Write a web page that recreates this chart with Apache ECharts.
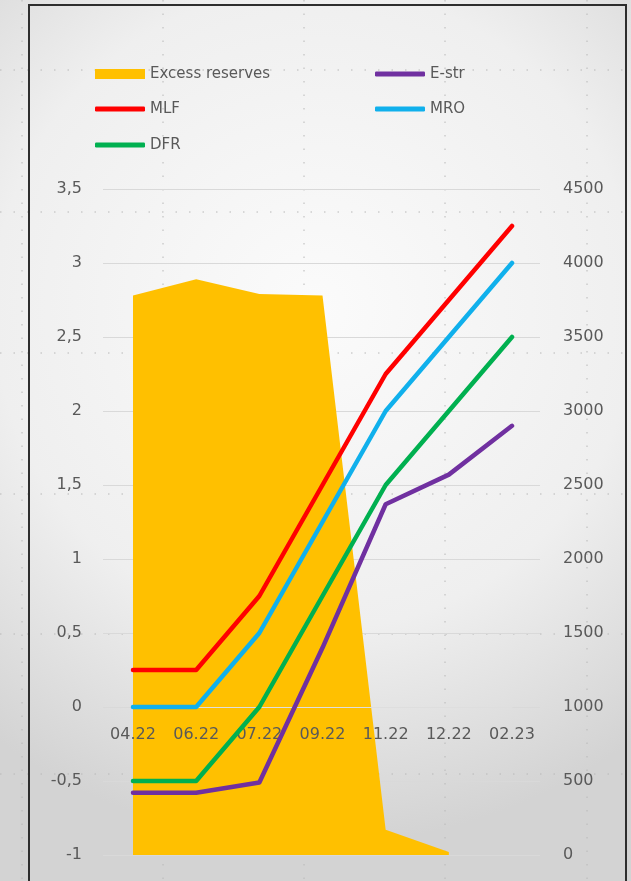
<!DOCTYPE html>
<html>
<head>
<meta charset="utf-8">
<script src="https://cdn.jsdelivr.net/npm/echarts@6/dist/echarts.min.js"></script>
<style>
  html, body { margin: 0; padding: 0; }
  #chart { width: 631px; height: 881px; }
</style>
</head>
<body>
<div id="chart"></div>
<script>
// categories and values
const categories = ['04.22', '06.22', '07.22', '09.22', '11.22', '12.22', '02.23'];
const excessReserves = [3780, 3890, 3790, 3780, 170, 20, null];
const estr = [-0.58, -0.58, -0.51, 0.4, 1.37, 1.57, 1.9];
const mlf = [0.25, 0.25, 0.75, 1.5, 2.25, 2.75, 3.25];
const mro = [0, 0, 0.5, 1.25, 2, 2.5, 3];
const dfr = [-0.5, -0.5, 0, 0.75, 1.5, 2, 2.5];

const leftTicks = { min: -1, max: 3.5, interval: 0.5 };
const rightTicks = { min: 0, max: 4500, interval: 500 };

const FONT = 'DejaVu Sans';
const TEXT = '#595959';

const GRID_TOP = 189;
const GRID_BOTTOM = 26;

function initChart() {
    const dom = document.getElementById('chart');
    const chart = echarts.init(dom, null, { renderer: 'canvas' });

    // faint dotted lines of the slide background + black frame
    const deco = [];
    [70, 212, 353, 494, 634, 774].forEach(y => {
        deco.push({ type: 'line', z: -1, shape: { x1: 0, y1: y, x2: 631, y2: y },
            style: { stroke: '#b8b8b8', lineWidth: 1, lineDash: [1.5, 12] } });
    });
    [22, 163, 304, 445, 587].forEach(x => {
        deco.push({ type: 'line', z: -1, shape: { x1: x, y1: 0, x2: x, y2: 881 },
            style: { stroke: '#b8b8b8', lineWidth: 1, lineDash: [1.5, 12] } });
    });
    deco.push({ type: 'rect', z: 100, shape: { x: 29, y: 5, width: 597, height: 885 },
        style: { fill: null, stroke: '#2e2e2e', lineWidth: 2 } });

    // the category axis sits on the left axis' zero: shift it up from the grid bottom
    const plotHeight = 881 - GRID_TOP - GRID_BOTTOM;
    const zeroOffset = -plotHeight * (0 - leftTicks.min) / (leftTicks.max - leftTicks.min);

    const lineSeries = (name, data, color) => ({
        name: name,
        type: 'line',
        data: data,
        xAxisIndex: 0,
        yAxisIndex: 0,
        symbol: 'none',
        z: 4,
        color: color,
        lineStyle: { width: 4.5, color: color, cap: 'round', join: 'round' }
    });

    const legendText = { color: TEXT, fontFamily: FONT, fontSize: 15, lineHeight: 16 };

    const option = {
        backgroundColor: {
            type: 'radial', x: 0.5, y: 0.35, r: 0.85,
            colorStops: [
                { offset: 0, color: '#fbfbfb' },
                { offset: 0.6, color: '#efefef' },
                { offset: 1, color: '#d3d3d3' }
            ]
        },
        animation: false,
        graphic: deco,
        legend: [
            {
                left: 90, top: 61, itemWidth: 50, itemHeight: 10,
                textStyle: legendText,
                data: [{ name: 'Excess reserves', icon: 'rect' }]
            },
            {
                left: 90, top: 96, orient: 'vertical', itemWidth: 50, itemHeight: 5, itemGap: 20,
                textStyle: legendText,
                data: [{ name: 'MLF', icon: 'roundRect' }, { name: 'DFR', icon: 'roundRect' }]
            },
            {
                left: 370, top: 61, orient: 'vertical', itemWidth: 50, itemHeight: 5, itemGap: 19,
                textStyle: legendText,
                data: [{ name: 'E-str', icon: 'roundRect' }, { name: 'MRO', icon: 'roundRect' }]
            }
        ],
        grid: [
            { left: 133, right: 119, top: GRID_TOP, bottom: GRID_BOTTOM, outerBoundsMode: 'none', containLabel: false },
            // wider grid that only carries the horizontal gridlines
            { left: 103, right: 91, top: GRID_TOP, bottom: GRID_BOTTOM, outerBoundsMode: 'none', containLabel: false }
        ],
        xAxis: [
            {
                type: 'category',
                gridIndex: 0,
                data: categories,
                boundaryGap: false,
                z: 3,
                offset: zeroOffset,
                axisLine: { onZero: false, lineStyle: { color: '#dedede', width: 1 } },
                axisTick: { show: false },
                axisLabel: { interval: 0, margin: 20, color: TEXT, fontFamily: FONT, fontSize: 16 },
                splitLine: { show: false }
            },
            { type: 'value', gridIndex: 1, show: false, min: 0, max: 1 }
        ],
        yAxis: [
            {
                type: 'value',
                gridIndex: 0,
                position: 'left',
                min: leftTicks.min, max: leftTicks.max, interval: leftTicks.interval,
                axisLine: { show: false },
                axisTick: { show: false },
                splitLine: { show: false },
                axisLabel: {
                    margin: 51, color: TEXT, fontFamily: FONT, fontSize: 16,
                    formatter: v => String(v).replace('.', ',')
                }
            },
            {
                type: 'value',
                gridIndex: 0,
                position: 'right',
                min: rightTicks.min, max: rightTicks.max, interval: rightTicks.interval,
                axisLine: { show: false },
                axisTick: { show: false },
                splitLine: { show: false },
                axisLabel: {
                    margin: 51, align: 'left', color: TEXT, fontFamily: FONT, fontSize: 16,
                    formatter: v => String(v)
                }
            },
            {
                type: 'value',
                gridIndex: 1,
                min: leftTicks.min, max: leftTicks.max, interval: leftTicks.interval,
                axisLine: { show: false },
                axisTick: { show: false },
                axisLabel: { show: false },
                splitLine: { show: true, lineStyle: { color: '#d9d9d9', width: 1 } }
            }
        ],
        series: [
            {
                name: 'Excess reserves',
                type: 'line',
                data: excessReserves,
                xAxisIndex: 0,
                yAxisIndex: 1,
                symbol: 'none',
                z: 1,
                color: '#ffc000',
                lineStyle: { width: 0 },
                areaStyle: { color: '#ffc000', opacity: 1 }
            },
            lineSeries('E-str', estr, '#7030a0'),
            lineSeries('MLF', mlf, '#ff0000'),
            lineSeries('MRO', mro, '#10b0ec'),
            lineSeries('DFR', dfr, '#00b050')
        ]
    };

    chart.setOption(option);
    window.addEventListener('resize', () => chart.resize());
}

if (document.readyState === 'loading') {
    document.addEventListener('DOMContentLoaded', initChart);
} else {
    initChart();
}
</script>
</body>
</html>
